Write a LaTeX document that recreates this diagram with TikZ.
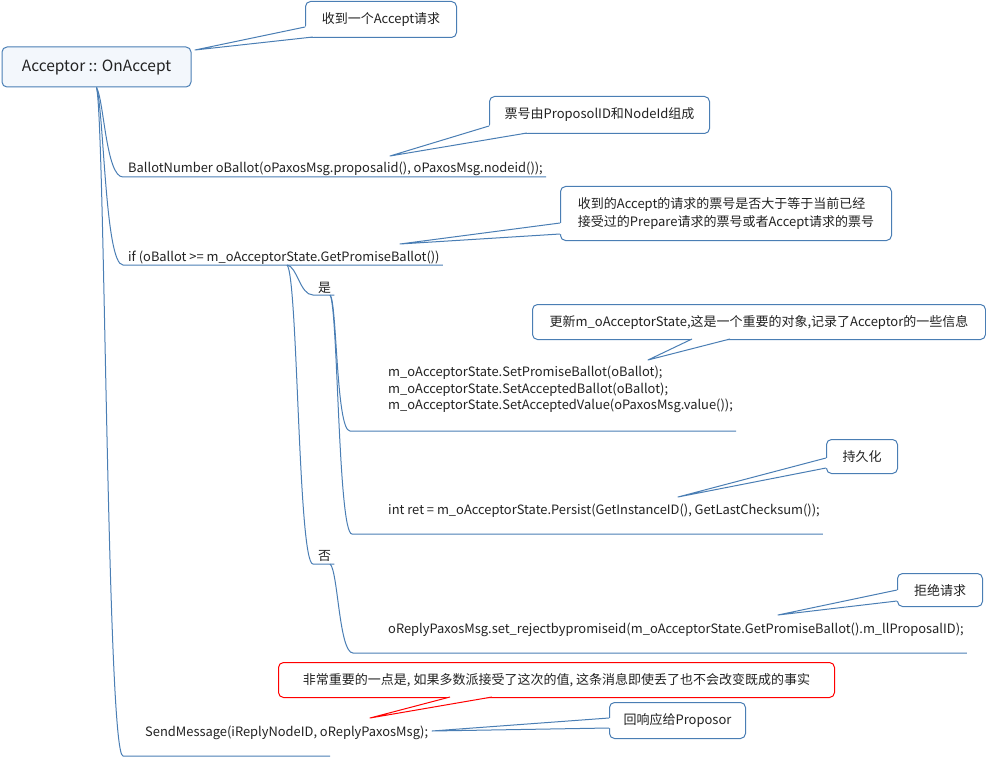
\documentclass[tikz,border=0pt]{standalone}
\usepackage{fontspec}
\setmainfont{Noto Sans CJK SC}
\usetikzlibrary{calc}

\definecolor{mapblue}{RGB}{74,126,180}
\definecolor{rootfill}{RGB}{243,247,252}
\definecolor{inkgray}{RGB}{34,34,34}

\tikzset{
  branch/.style={draw=mapblue, line width=1pt},
  rootbox/.style={draw=mapblue, fill=rootfill, rounded corners=5pt, line width=1pt,
    minimum width=189pt, minimum height=40pt, inner sep=0pt,
    font=\fontsize{15.5}{20}\selectfont, text=inkgray},
  code/.style={anchor=base west, inner xsep=3pt, inner ysep=0pt,
    font=\fontsize{12.9}{16.5}\selectfont, text=inkgray, align=left},
  note/.style={draw=mapblue, fill=white, rounded corners=5pt, line width=1pt,
    anchor=north west, inner sep=0pt, font=\fontsize{13}{18}\selectfont, text=inkgray},
  rednote/.style={note, draw=red},
}

% wedge of a callout: colour, tip, first foot, second foot, inward shift
\newcommand{\notewedge}[5]{%
  \fill[white] (#2) -- (#3) -- ($(#3)+(#5)$) -- ($(#4)+(#5)$) -- (#4) -- cycle;
  \draw[#1, line width=1pt, line join=round] (#3) -- (#2) -- (#4);
}

\begin{document}
\begin{tikzpicture}[x=1pt, y=-1pt]
  \useasboundingbox (0,0) rectangle (986,757);

  % root
  \node[rootbox] (root) at (96.5,67) {Acceptor :: OnAccept};

  % topics
  \node[code] (ballot) at (125,173) {BallotNumber oBallot(oPaxosMsg.proposalid(), oPaxosMsg.nodeid());};
  \node[code] (cond) at (125,261) {if (oBallot >= m\_oAcceptorState.GetPromiseBallot())};
  \node[code] (yes) at (315,292) {是};
  \node[code] (no) at (315,560) {否};
  \node[code, anchor=north west] (update) at (385,366) {m\_oAcceptorState.SetPromiseBallot(oBallot);\\
    m\_oAcceptorState.SetAcceptedBallot(oBallot);\\
    m\_oAcceptorState.SetAcceptedValue(oPaxosMsg.value());};
  \node[code] (persist) at (385,514) {int ret = m\_oAcceptorState.Persist(GetInstanceID(), GetLastChecksum());};
  \node[code] (reject) at (385,633) {oReplyPaxosMsg.set\_rejectbypromiseid(m\_oAcceptorState.GetPromiseBallot().m\_llProposalID);};
  \node[code] (send) at (142,736) {SendMessage(iReplyNodeID, oReplyPaxosMsg);};

  % branch feet
  \coordinate (ul-ballot) at (123,177);
  \coordinate (ul-cond) at (123,265);
  \coordinate (ul-send) at (123,756);
  \coordinate (ul-send-end) at (330,756);
  \coordinate (cond-out) at (287,265);
  \coordinate (ul-yes) at (313,295);
  \coordinate (ul-no) at (313,564);
  \coordinate (yes-out) at (330,295);
  \coordinate (no-out) at (330,564);
  \coordinate (ul-update) at (350,431);
  \coordinate (ul-persist) at (352,534);
  \coordinate (ul-reject) at (353,653);

  % branches
  \draw[branch] (root.south) .. controls (104,100) and (106,177) .. (ul-ballot) -- (ul-ballot -| ballot.east);
  \draw[branch] (root.south) .. controls (104,110) and (105,265) .. (ul-cond) -- (ul-cond -| cond.east);
  \draw[branch] (root.south) .. controls (105,120) and (107,756) .. (ul-send) -- (ul-send-end);
  \draw[branch] (cond-out) .. controls (297,266) and (300,295) .. (ul-yes) -- (ul-yes -| yes.east);
  \draw[branch] (cond-out) .. controls (298,275) and (298,564) .. (ul-no) -- (ul-no -| no.east);
  \draw[branch] (yes-out) .. controls (337,300) and (336,431) .. (ul-update) -- (ul-update -| update.east);
  \draw[branch] (yes-out) .. controls (338,305) and (338,534) .. (ul-persist) -- (ul-persist -| persist.east);
  \draw[branch] (no-out) .. controls (338,570) and (339,653) .. (ul-reject) -- (ul-reject -| reject.east);

  % callouts
  \node[note, minimum width=151pt, minimum height=36pt] (n-accept) at (305,1) {收到一个Accept请求};
  \node[note, minimum width=220pt, minimum height=37pt] (n-ballot) at (489,96) {票号由ProposolID和NodeId组成};
  \node[note, minimum width=331pt, minimum height=54pt, align=left] (n-cond) at (560,186)
    {收到的Accept的请求的票号是否大于等于当前已经\\接受过的Prepare请求的票号或者Accept请求的票号};
  \node[note, minimum width=453pt, minimum height=35pt] (n-update) at (532,304)
    {更新m\_oAcceptorState,这是一个重要的对象,记录了Acceptor的一些信息};
  \node[note, minimum width=71pt, minimum height=34pt] (n-persist) at (826,439) {持久化};
  \node[note, minimum width=85pt, minimum height=33pt] (n-reject) at (897,573) {拒绝请求};
  \node[rednote, minimum width=556pt, minimum height=35pt] (n-fact) at (278,662)
    {非常重要的一点是, 如果多数派接受了这次的值, 这条消息即使丢了也不会改变既成的事实};
  \node[note, minimum width=136pt, minimum height=36pt] (n-send) at (609,702) {回响应给Proposor};

  % callout tips
  \coordinate (tip-root) at (195,50);
  \coordinate (tip-ballot) at (390,156);
  \coordinate (tip-cond) at (400,244);
  \coordinate (tip-update) at (648,360);
  \coordinate (tip-persist) at (678,497);
  \coordinate (tip-reject) at (778,615);
  \coordinate (tip-fact) at (370,718);
  \coordinate (tip-send) at (432,731);

  \notewedge{mapblue}{tip-root}{305,27}{313,37}{4,-4}
  \notewedge{mapblue}{tip-ballot}{489,126}{527,133}{4,-4}
  \notewedge{mapblue}{tip-cond}{560,223}{560,234}{4,0}
  \notewedge{mapblue}{tip-update}{692,339}{730,339}{0,-4}
  \notewedge{mapblue}{tip-persist}{826,458}{826,468}{4,0}
  \notewedge{mapblue}{tip-reject}{897,590}{897,601}{4,0}
  \notewedge{red}{tip-fact}{450,697}{492,697}{0,-4}
  \notewedge{mapblue}{tip-send}{609,718}{609,728}{4,0}
\end{tikzpicture}
\end{document}
